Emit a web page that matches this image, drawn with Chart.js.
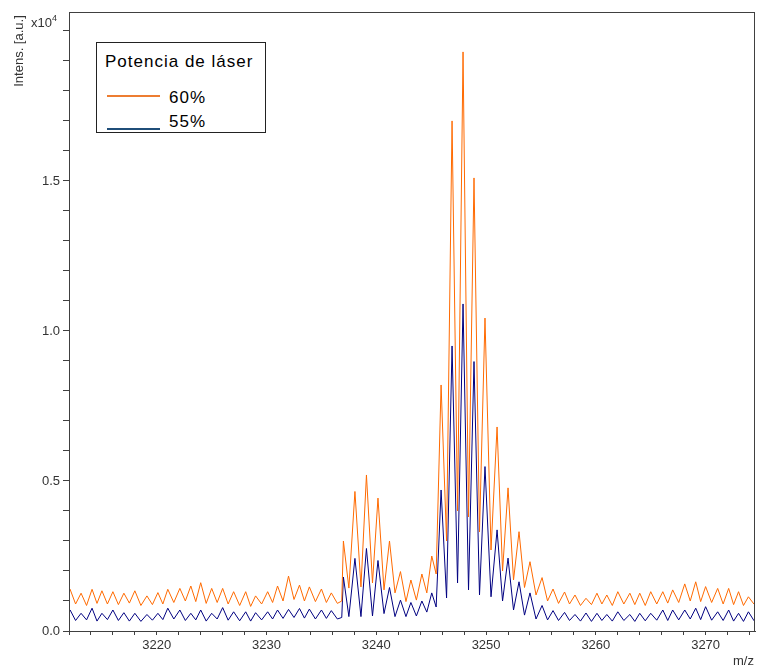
<!DOCTYPE html>
<html>
<head>
<meta charset="utf-8">
<title>Potencia de láser</title>
<script src="https://cdn.jsdelivr.net/npm/chart.js@4.4.1/dist/chart.umd.min.js"></script>
<style>
  body { margin: 0; background: #fff; }
  #wrap { position: relative; width: 757px; height: 671px; font-family: "Liberation Sans", Arial, sans-serif; color: #333; }
  #chart { position: absolute; left: 0; top: 0; }
  .ylab { position: absolute; left: 18px; top: 51px; width: 0; height: 0; }
  .ylab span { position: absolute; transform: translate(-50%, -50%) rotate(-90deg); font-size: 13px; white-space: nowrap; }
  .expo { position: absolute; left: 31px; top: 13px; font-size: 13px; }
  .expo sup { font-size: 9px; vertical-align: 6px; }
  .xlab { position: absolute; left: 733px; top: 653px; font-size: 13px; }
  #legend { position: absolute; left: 96px; top: 42px; width: 168px; height: 89px; border: 1px solid #222; background: #fff; color: #000; letter-spacing: 1px; font-size: 17px; }
  #legend .ttl { position: absolute; left: 8px; top: 9px; white-space: nowrap; }
  #legend .sw { position: absolute; left: 10px; width: 53px; height: 2px; }
  #legend .lab { position: absolute; left: 72px; }
</style>
</head>
<body>
<div id="wrap">
  <canvas id="chart" width="757" height="671"></canvas>
  <div class="ylab"><span>Intens. [a.u.]</span></div>
  <div class="expo">x10<sup>4</sup></div>
  <div class="xlab">m/z</div>
  <div id="legend">
    <div class="ttl">Potencia de láser</div>
    <div class="sw" style="top:52px;background:#ed7d31"></div>
    <div class="lab" style="top:45px">60%</div>
    <div class="sw" style="top:85px;background:#1f4e79"></div>
    <div class="lab" style="top:69px">55%</div>
  </div>
</div>
<script>
// m/z positions (troughs and peaks)
const mz = [
  3211.6, 3212.1, 3212.6, 3213.1, 3213.6, 3214.1, 3214.55, 3215.0, 3215.5, 3216.0,
  3216.5, 3217.0, 3217.5, 3218.0, 3218.55, 3219.1, 3219.6, 3220.1, 3220.55, 3221.0,
  3221.55, 3222.1, 3222.6, 3223.1, 3223.55, 3224.0, 3224.5, 3225.0, 3225.5, 3226.0,
  3226.5, 3227.0, 3227.55, 3228.1, 3228.55, 3229.0, 3229.55, 3230.1, 3230.55, 3231.0,
  3231.5, 3232.0, 3232.5, 3233.0, 3233.45, 3233.9, 3234.45, 3235.0, 3235.45, 3235.9,
  3236.45, 3236.85,
  3237.0, 3237.5, 3238.05, 3238.6, 3239.1, 3239.65, 3240.15, 3240.7, 3241.2, 3241.7,
  3242.2, 3242.7, 3243.15, 3243.65, 3244.15, 3244.6, 3245.05, 3245.45,
  3245.9, 3246.4, 3246.9, 3247.4, 3247.9, 3248.4, 3248.9, 3249.4, 3249.9, 3250.45,
  3251.0, 3251.5, 3252.0, 3252.5, 3253.0, 3253.5, 3254.0, 3254.55, 3255.1, 3255.6,
  3256.1, 3256.6, 3257.15,
  3257.6, 3258.1, 3258.6, 3259.1, 3259.6, 3260.1, 3260.55, 3261.0, 3261.5, 3262.0,
  3262.55, 3263.1, 3263.55, 3264.0, 3264.5, 3265.0, 3265.55, 3266.1, 3266.55, 3267.0,
  3267.55, 3268.1, 3268.6, 3269.1, 3269.55, 3270.0, 3270.55, 3271.1, 3271.6, 3272.1,
  3272.55, 3273.0, 3273.45, 3273.9, 3274.4, 3274.9
];

// intensity x10^4, laser power 60%
const laser60 = [
  0.095, 0.139, 0.09, 0.126, 0.085, 0.139, 0.092, 0.134, 0.09, 0.131,
  0.088, 0.126, 0.093, 0.134, 0.085, 0.117, 0.088, 0.128, 0.09, 0.139,
  0.095, 0.142, 0.1, 0.15, 0.098, 0.161, 0.092, 0.142, 0.095, 0.142,
  0.09, 0.131, 0.085, 0.131, 0.082, 0.117, 0.09, 0.131, 0.095, 0.15,
  0.1, 0.183, 0.105, 0.153, 0.1, 0.147, 0.098, 0.14, 0.095, 0.127,
  0.092, 0.1,
  0.30, 0.143, 0.465, 0.147, 0.52, 0.16, 0.443, 0.137, 0.30, 0.127,
  0.198, 0.098, 0.17, 0.103, 0.19, 0.127, 0.25, 0.19,
  0.82, 0.30, 1.70, 0.40, 1.93, 0.38, 1.51, 0.33, 1.043, 0.27,
  0.68, 0.20, 0.477, 0.17, 0.331, 0.145, 0.231, 0.12, 0.178, 0.10,
  0.14, 0.092, 0.13,
  0.09, 0.12, 0.085, 0.109, 0.088, 0.126, 0.09, 0.12, 0.085, 0.131,
  0.09, 0.126, 0.088, 0.126, 0.085, 0.131, 0.09, 0.131, 0.093, 0.137,
  0.095, 0.157, 0.1, 0.164, 0.098, 0.148, 0.095, 0.142, 0.09, 0.142,
  0.088, 0.131, 0.085, 0.114, 0.09, 0.12
];

// intensity x10^4, laser power 55%
const laser55 = [
  0.04, 0.07, 0.035, 0.059, 0.037, 0.076, 0.033, 0.059, 0.038, 0.07,
  0.035, 0.061, 0.033, 0.059, 0.032, 0.055, 0.036, 0.059, 0.038, 0.076,
  0.04, 0.07, 0.035, 0.059, 0.037, 0.07, 0.033, 0.059, 0.04, 0.078,
  0.036, 0.064, 0.034, 0.064, 0.033, 0.061, 0.037, 0.064, 0.04, 0.07,
  0.042, 0.072, 0.045, 0.075, 0.043, 0.073, 0.04, 0.07, 0.042, 0.068,
  0.04, 0.045,
  0.18, 0.048, 0.242, 0.048, 0.275, 0.05, 0.235, 0.058, 0.145, 0.048,
  0.103, 0.048, 0.095, 0.05, 0.10, 0.063, 0.127, 0.08,
  0.47, 0.11, 0.95, 0.16, 1.09, 0.137, 0.898, 0.12, 0.548, 0.114,
  0.337, 0.10, 0.243, 0.07, 0.164, 0.053, 0.127, 0.04, 0.085, 0.037,
  0.068, 0.035, 0.062,
  0.035, 0.055, 0.033, 0.06, 0.032, 0.059, 0.035, 0.055, 0.033, 0.064,
  0.035, 0.055, 0.032, 0.059, 0.034, 0.059, 0.036, 0.07, 0.035, 0.07,
  0.037, 0.07, 0.04, 0.076, 0.038, 0.081, 0.036, 0.064, 0.035, 0.07,
  0.033, 0.059, 0.032, 0.064, 0.035, 0.06
];

const xLabels = [3220, 3230, 3240, 3250, 3260, 3270];
const yLabels = [0.0, 0.5, 1.0, 1.5];

const toPoints = ys => mz.map((x, i) => ({ x: x, y: ys[i] }));

// box around the plot area (top and right sides)
const frame = {
  id: 'frame',
  afterDraw(chart) {
    const { ctx, chartArea: a } = chart;
    ctx.save();
    ctx.strokeStyle = '#404040';
    ctx.lineWidth = 1;
    ctx.strokeRect(Math.round(a.left) + 0.5, Math.round(a.top) + 0.5,
      Math.round(a.right - a.left) - 1, Math.round(a.bottom - a.top));
    ctx.restore();
  }
};

const axisFont = { family: '"Liberation Sans", Arial, sans-serif', size: 13 };

new Chart(document.getElementById('chart'), {
  type: 'line',
  data: {
    datasets: [
      { label: '60%', data: toPoints(laser60), borderColor: '#ff6a00', borderWidth: 1, pointRadius: 0, tension: 0 },
      { label: '55%', data: toPoints(laser55), borderColor: '#000080', borderWidth: 1, pointRadius: 0, tension: 0 }
    ]
  },
  options: {
    responsive: false,
    animation: false,
    events: [],
    layout: { padding: { top: 12, right: 2, left: 0, bottom: 0 } },
    plugins: { legend: { display: false }, tooltip: { enabled: false } },
    scales: {
      x: {
        type: 'linear',
        min: 3212,
        max: 3274.5,
        afterFit: s => { s.height = 40; },
        border: { color: '#404040' },
        grid: { drawOnChartArea: false, tickLength: 4, tickColor: '#404040' },
        ticks: {
          stepSize: 2, includeBounds: false, autoSkip: false, maxRotation: 0,
          padding: 3, color: '#333', font: axisFont,
          callback: v => xLabels.includes(v) ? String(v) : ''
        }
      },
      y: {
        min: 0,
        max: 2.063,
        afterFit: s => { s.width = 69; },
        border: { color: '#404040' },
        grid: { drawOnChartArea: false, tickLength: 6, tickColor: '#404040' },
        ticks: {
          stepSize: 0.1, includeBounds: false, autoSkip: false,
          padding: 3, color: '#333', font: axisFont,
          callback: v => yLabels.some(l => Math.abs(l - v) < 1e-6) ? v.toFixed(1) : ''
        }
      }
    }
  },
  plugins: [frame]
});
</script>
</body>
</html>
